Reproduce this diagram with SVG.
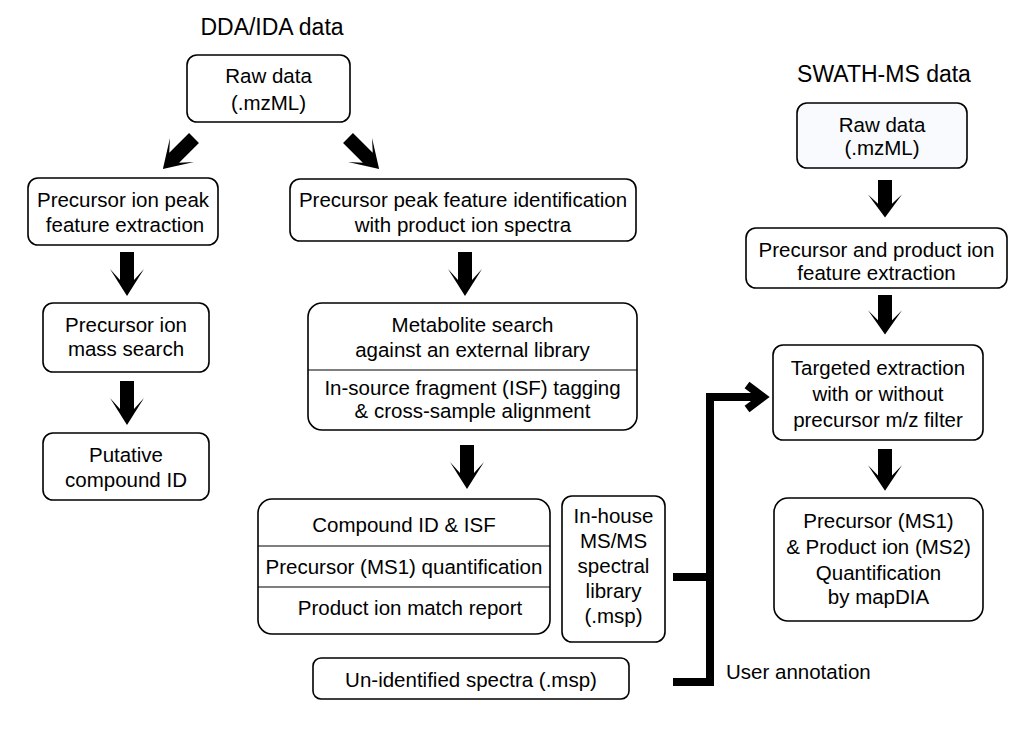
<svg xmlns="http://www.w3.org/2000/svg" width="1029" height="736" viewBox="0 0 1029 736">
<style>
.box{fill:#fff;stroke:#000;stroke-width:1.6}
.div{stroke:#000;stroke-width:1.2}
text{font-family:"Liberation Sans",Arial,Helvetica,sans-serif;font-size:20.5px;fill:#000;text-anchor:middle}
.title{font-size:23px}
.conn{fill:none;stroke:#000;stroke-width:8;stroke-linejoin:miter;stroke-linecap:butt}
</style>
<defs>
<polygon id="arr" points="-7,0 7,0 7,28 17,17 0,44 -17,17 -7,28" fill="#000"/>
</defs>
<rect width="1029" height="736" fill="#fff"/>
<text class="title" x="272" y="35">DDA/IDA data</text>
<text class="title" x="884" y="82">SWATH-MS data</text>

<g id="n1"><rect class="box" x="187" y="55" width="163" height="67" rx="10"/><text x="268.5" y="83">Raw data</text><text x="268.5" y="110">(.mzML)</text></g>
<g id="n2"><rect class="box" x="28" y="178" width="190" height="67" rx="10"/><text x="123" y="207">Precursor ion peak</text><text x="125" y="232">feature extraction</text></g>
<g id="n3"><rect class="box" x="43" y="303" width="166" height="69" rx="10"/><text x="126" y="332">Precursor ion</text><text x="126" y="356">mass search</text></g>
<g id="n4"><rect class="box" x="43" y="433" width="166" height="67" rx="10"/><text x="126" y="462">Putative</text><text x="126" y="487">compound ID</text></g>

<g id="n5"><rect class="box" x="290" y="179" width="346" height="62" rx="10"/><text x="463" y="207">Precursor peak feature identification</text><text x="463" y="232">with product ion spectra</text></g>
<g id="n6"><rect class="box" x="308" y="303" width="329" height="127" rx="14"/><line class="div" x1="308" y1="370" x2="637" y2="370"/><text x="472.5" y="332">Metabolite search</text><text x="472.5" y="357">against an external library</text><text x="472.5" y="395">In-source fragment (ISF) tagging</text><text x="472.5" y="418">&amp; cross-sample alignment</text></g>
<g id="n7"><rect class="box" x="258" y="499" width="292" height="135" rx="14"/><line class="div" x1="258" y1="546" x2="550" y2="546"/><line class="div" x1="258" y1="587" x2="550" y2="587"/><text x="404" y="532">Compound ID &amp; ISF</text><text x="404" y="574">Precursor (MS1) quantification</text><text x="410" y="615">Product ion match report</text></g>
<g id="n8"><rect class="box" x="562" y="496" width="103" height="146" rx="10"/><text x="613.5" y="523">In-house</text><text x="613.5" y="548">MS/MS</text><text x="613.5" y="573">spectral</text><text x="613.5" y="598">library</text><text x="613.5" y="623">(.msp)</text></g>
<g id="n9"><rect class="box" x="313" y="658" width="316" height="41" rx="8"/><text x="471" y="687">Un-identified spectra (.msp)</text></g>

<g id="n10"><rect class="box" x="797" y="103" width="170" height="65" rx="10" style="fill:#f8fafd"/><text x="882" y="132">Raw data</text><text x="882" y="155">(.mzML)</text></g>
<g id="n11"><rect class="box" x="746" y="228" width="261" height="60" rx="10"/><text x="876.5" y="257">Precursor and product ion</text><text x="876.5" y="280">feature extraction</text></g>
<g id="n12"><rect class="box" x="773" y="345" width="210" height="95" rx="10"/><text x="878" y="375">Targeted extraction</text><text x="878" y="401">with or without</text><text x="878" y="427">precursor m/z filter</text></g>
<g id="n13"><rect class="box" x="774" y="498" width="209" height="123" rx="14"/><text x="878.5" y="528">Precursor (MS1)</text><text x="878.5" y="554">&amp; Product ion (MS2)</text><text x="878.5" y="580">Quantification</text><text x="878.5" y="604">by mapDIA</text></g>

<g id="connectors">
<use href="#arr" transform="translate(194,138) rotate(45)"/>
<use href="#arr" transform="translate(348,138) rotate(-45)"/>
<use href="#arr" transform="translate(127,252)"/>
<use href="#arr" transform="translate(127,381)"/>
<use href="#arr" transform="translate(465,252)"/>
<use href="#arr" transform="translate(467,445)"/>
<use href="#arr" transform="translate(885,180) scale(1,0.85)"/>
<use href="#arr" transform="translate(885,295) scale(1,0.9)"/>
<use href="#arr" transform="translate(885,449) scale(1,0.95)"/>
<polyline class="conn" points="673,577 710,577"/>
<polyline class="conn" points="673,682 710,682 710,397 760,397"/>
<polyline class="conn" points="747,385 763,397 747,409"/>
<text x="726" y="679" style="text-anchor:start">User annotation</text>
</g>
</svg>
